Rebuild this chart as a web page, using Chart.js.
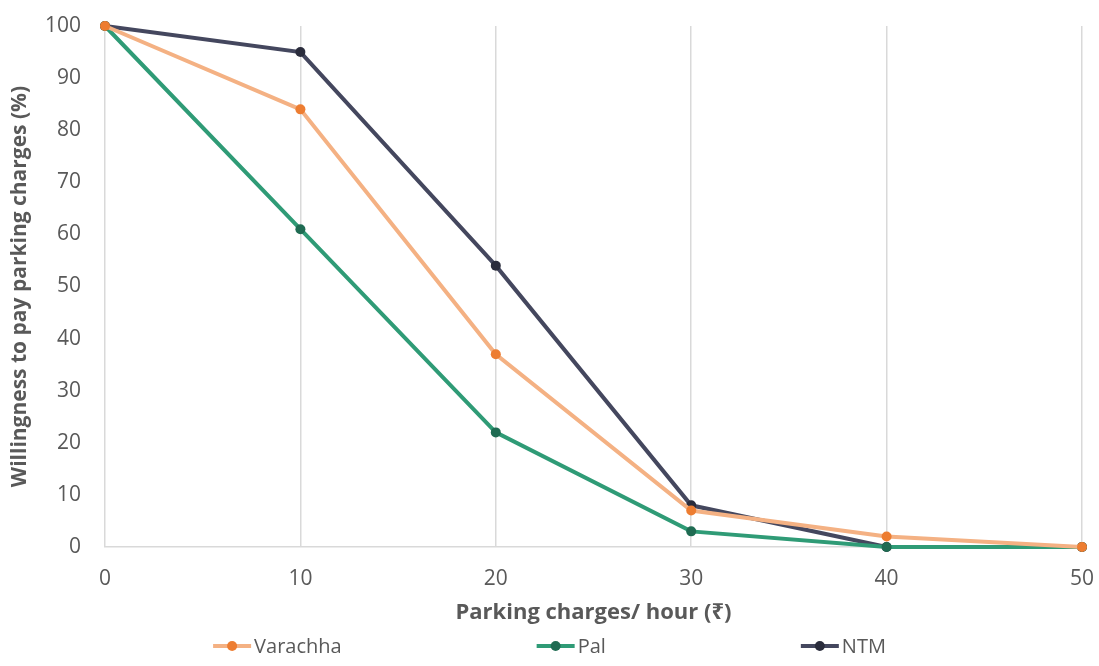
<!DOCTYPE html>
<html>
<head>
<meta charset="utf-8">
<script src="https://cdn.jsdelivr.net/npm/chart.js@4"></script>
<style>
  html, body { margin: 0; padding: 0; background: #ffffff; }
  #wrap { width: 1099px; height: 666px; }
</style>
</head>
<body>
<div id="wrap"><canvas id="c" width="1099" height="666"></canvas></div>
<script>
// Parking charge levels (₹ per hour)
const charges = [0, 10, 20, 30, 40, 50];
// Share of respondents willing to pay at each charge (%)
const varachha = [100, 84, 37, 7, 2, 0];
const pal = [100, 61, 22, 3, 0, 0];
const ntm = [100, 95, 54, 8, 0, 0];

const seriesNames = ['Varachha', 'Pal', 'NTM'];
const xTitle = 'Parking charges/ hour (₹)';
const yTitle = 'Willingness to pay parking charges (%)';

const FONT = '"Open Sans", "Noto Sans", "DejaVu Sans", sans-serif';
const TEXT = '#595959';

const styles = [
  { line: '#F4B183', dot: '#ED7D31' },
  { line: '#2F9B76', dot: '#1F6B52' },
  { line: '#44475E', dot: '#2A2C3C' }
];
const values = [varachha, pal, ntm];

function toPoints(vals) {
  return charges.map((x, i) => ({ x: x, y: vals[i] }));
}

const datasets = seriesNames.map((name, i) => ({
  label: name,
  data: toPoints(values[i]),
  borderColor: styles[i].line,
  backgroundColor: styles[i].dot,
  pointBackgroundColor: styles[i].dot,
  pointBorderColor: styles[i].dot,
  pointRadius: 5,
  pointBorderWidth: 0,
  borderWidth: 4,
  tension: 0,
  clip: false
}));

// Legend row under the axis title: line-with-dot marker followed by the series name
const bottomLegend = {
  id: 'bottomLegend',
  afterDraw(chart) {
    const ctx = chart.ctx;
    const fontSize = 20;
    const markerW = 38, markerGap = 3, itemGap = 195, cy = 646;
    ctx.save();
    ctx.font = fontSize + 'px ' + FONT;
    ctx.textBaseline = 'middle';
    ctx.textAlign = 'left';
    const items = chart.data.datasets.map(ds => ({
      ds: ds,
      w: markerW + markerGap + ctx.measureText(ds.label).width
    }));
    const total = items.reduce((s, it) => s + it.w, 0) + itemGap * (items.length - 1);
    let x = chart.width / 2 - total / 2;
    items.forEach(it => {
      ctx.strokeStyle = it.ds.borderColor;
      ctx.lineWidth = 4;
      ctx.beginPath();
      ctx.moveTo(x, cy);
      ctx.lineTo(x + markerW, cy);
      ctx.stroke();
      ctx.fillStyle = it.ds.pointBackgroundColor;
      ctx.beginPath();
      ctx.arc(x + markerW / 2, cy, 5, 0, Math.PI * 2);
      ctx.fill();
      ctx.fillStyle = TEXT;
      ctx.fillText(it.ds.label, x + markerW + markerGap, cy + 1);
      x += it.w + itemGap;
    });
    ctx.restore();
  }
};

new Chart(document.getElementById('c'), {
  type: 'line',
  data: { datasets: datasets },
  plugins: [bottomLegend],
  options: {
    responsive: false,
    animation: false,
    devicePixelRatio: 1,
    layout: { padding: { left: 0, right: 17, top: 26, bottom: 40 } },
    plugins: {
      tooltip: { enabled: false },
      legend: { display: false }
    },
    scales: {
      x: {
        type: 'linear',
        min: 0, max: 50,
        afterFit: (s) => { s.height = 79; s.paddingLeft = 0; s.paddingRight = 0; },
        ticks: { stepSize: 10, color: TEXT, font: { family: FONT, size: 21 }, padding: 19 },
        grid: { color: '#D9D9D9', lineWidth: 1.5, drawTicks: false },
        border: { display: true, color: '#D9D9D9', width: 1.5 },
        title: { display: true, text: xTitle, color: TEXT, font: { family: FONT, size: 22, weight: 'bold' }, padding: { top: 0, bottom: 0 } }
      },
      y: {
        min: 0, max: 100,
        afterFit: (s) => { s.width = 105; s.paddingTop = 0; s.paddingBottom = 0; },
        ticks: { stepSize: 10, color: TEXT, font: { family: FONT, size: 21 }, padding: 24 },
        grid: { display: false, drawTicks: false },
        border: { display: false },
        title: { display: true, text: yTitle, color: TEXT, font: { family: FONT, size: 21, weight: 'bold' }, padding: { top: 7, bottom: 0 } }
      }
    }
  }
});
</script>
</body>
</html>
